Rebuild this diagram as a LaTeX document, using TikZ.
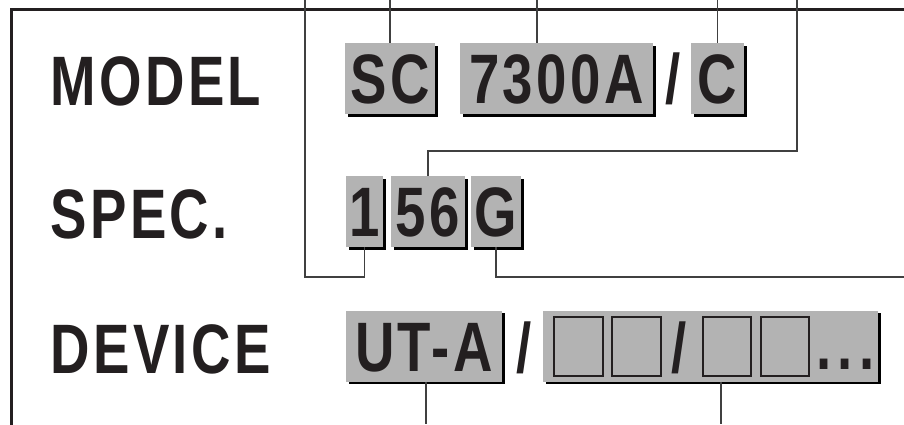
\documentclass[tikz,border=0pt]{standalone}
\usepackage{fontspec}
\setmainfont{Liberation Sans}
\newfontfamily\labfont[FakeStretch=0.78,LetterSpace=5]{Liberation Sans Bold}
\newfontfamily\dotfont[FakeStretch=0.78,LetterSpace=9]{Liberation Sans Bold}
\usetikzlibrary{shadows}
\definecolor{ink}{HTML}{231F20}
\definecolor{boxgray}{HTML}{B3B3B3}
\definecolor{wirec}{HTML}{404040}
\tikzset{
  bigtext/.style={font=\labfont\fontsize{70}{70}\selectfont, text=ink, inner sep=0pt},
  lab/.style={bigtext, anchor=base west},
  gbox/.style={bigtext, fill=boxgray, text height=50pt, text depth=0pt,
    minimum height=71pt,
    drop shadow={shadow xshift=2.5pt, shadow yshift=-2.5pt, fill=black, opacity=1}},
  wire/.style={draw=wirec, line width=1.2pt},
  frame/.style={draw=ink, line width=3pt},
  hole/.style={draw=ink, line width=1.4pt},
}
\begin{document}
\begin{tikzpicture}[x=1pt,y=-1pt]
\useasboundingbox (0,0) rectangle (904,424);
\clip (0,0) rectangle (904,424);
\fill[white] (0,0) rectangle (904,424);
% frame
\draw[frame] (910,9) -- (11,9) -- (11,430);
% labels
\node[lab] (lmodel) at (50,105) {MODEL};
\node[lab] (lspec) at (50,238) {SPEC.};
\node[lab] (ldevice) at (50,373) {DEVICE};
% row 1
\node[gbox, minimum width=90pt] (sc) at (390,78.5) {SC};
\node[gbox, minimum width=193pt] (b7300) at (556.5,78.5) {7300A};
\node[bigtext, anchor=base] (sl1) at (673,103) {/};
\node[gbox, minimum width=53pt] (bc) at (717.5,78.5) {C};
% row 2
\node[gbox, minimum width=37pt] (s1) at (364.5,211.5) {1};
\node[gbox, minimum width=74pt] (s56) at (428,211.5) {56};
\node[gbox, minimum width=50pt] (sg) at (496,211.5) {G};
% row 3
\node[gbox, minimum width=156pt] (ut) at (424,346) {UT-A};
\node[bigtext, anchor=base] (sl2) at (524,372) {/};
\node[gbox, minimum width=335pt] (big) at (710.5,346) {};
\draw[hole] (554,317) rectangle (603,376);
\draw[hole] (612,317) rectangle (661,376);
\node[bigtext, anchor=base] (sl3) at (679,372) {/};
\draw[hole] (703,317) rectangle (751,376);
\draw[hole] (761,317) rectangle (809,376);
\node[bigtext, font=\dotfont\fontsize{70}{70}\selectfont, anchor=base west] (dots) at (816,369) {...};
% wires
\coordinate (top) at (0,0);
\coordinate (c305) at (305,0);
\coordinate (k1) at (305,277);
\coordinate (c537) at (537,0);
\coordinate (c797) at (797,0);
\coordinate (k2) at (797,151);
\coordinate (e1) at (904,277);
\coordinate (c426) at (426,424);
\coordinate (c721) at (721,424);
\draw[wire] (c305) -- (k1) -| (s1.south);
\draw[wire] (sc.north) -- (sc.north |- top);
\draw[wire] (c537 |- b7300.north) -- (c537);
\draw[wire] (bc.north) -- (bc.north |- top);
\draw[wire] (c797) -- (k2) -| (s56.north);
\draw[wire] (sg.south) |- (e1);
\draw[wire] (c426 |- ut.south) -- (c426);
\draw[wire] (c721 |- big.south) -- (c721);
\end{tikzpicture}
\end{document}
